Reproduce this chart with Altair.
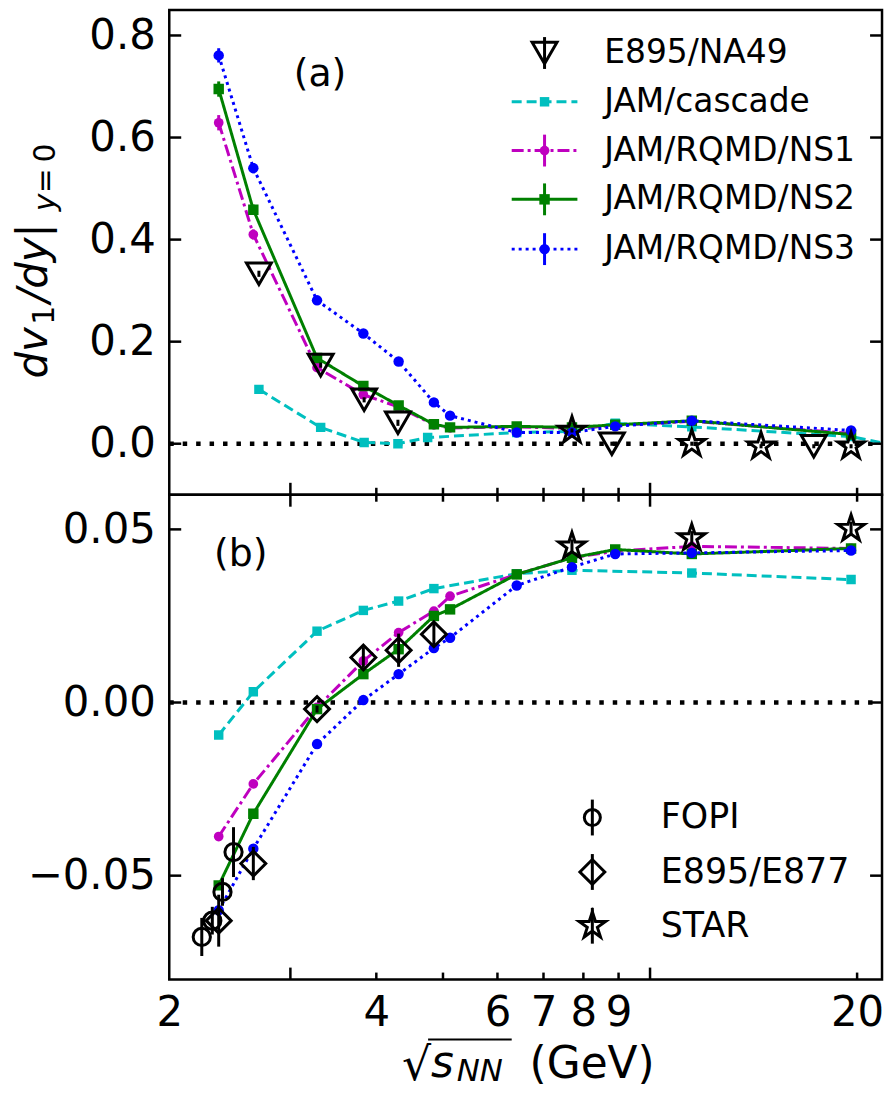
import altair as alt
import pandas as pd

# ---------------- data ----------------
# panel (a): dv1/dy|y=0
A_MODEL_X = [2.36, 2.65, 3.28, 3.83, 4.31, 4.85, 5.12, 6.4, 7.7, 8.9, 11.5, 19.6]
A_NS1 = [0.629, 0.410, 0.149, 0.096, 0.072, 0.037, 0.031, 0.033, 0.030, 0.036, 0.044, 0.020]
A_NS1_ERR = [0.015, 0.010, 0.006, 0.004, 0.004, 0.003, 0.003, 0.002, 0.002, 0.002, 0.002, 0.002]
A_NS2 = [0.695, 0.4585, 0.168, 0.113, 0.075, 0.038, 0.032, 0.034, 0.032, 0.037, 0.045, 0.018]
A_NS2_ERR = [0.015, 0.010, 0.006, 0.004, 0.004, 0.003, 0.003, 0.002, 0.002, 0.002, 0.002, 0.002]
A_NS3 = [0.761, 0.540, 0.281, 0.216, 0.161, 0.081, 0.055, 0.022, 0.022, 0.034, 0.045, 0.026]
A_NS3_ERR = [0.014, 0.010, 0.006, 0.004, 0.004, 0.003, 0.003, 0.002, 0.002, 0.002, 0.002, 0.002]
A_CASCADE_X = [2.7, 3.32, 3.84, 4.3, 4.75, 6.4, 7.7, 8.9, 11.5, 19.6, 27.0]
A_CASCADE = [0.1065, 0.032, 0.0025, 0.0, 0.012, 0.022, 0.024, 0.040, 0.033, 0.014, -0.024]
A_E895_X = [2.7, 3.32, 3.84, 4.3, 8.8, 17.3]
A_E895 = [0.333, 0.154, 0.086, 0.041, 0.0, -0.005]
A_E895_ERR = [0.006, 0.005, 0.005, 0.006, 0.004, 0.004]
A_STAR_X = [7.7, 11.5, 14.5, 19.6]
A_STAR = [0.026, 0.0, -0.005, -0.005]
A_STAR_ERR = [0.004, 0.004, 0.004, 0.004]

# panel (b)
B_MODEL_X = [2.36, 2.65, 3.28, 3.83, 4.31, 4.85, 5.12, 6.4, 7.7, 8.9, 11.5, 19.6]
B_CASCADE_X = [2.36, 2.65, 3.28, 3.83, 4.31, 4.85, 6.4, 7.7, 11.5, 19.6]
B_CASCADE = [-0.0094, 0.0031, 0.0206, 0.0266, 0.0293, 0.0329, 0.0372, 0.0382, 0.0374, 0.0355]
B_NS1 = [-0.0387, -0.0235, -0.0014, 0.012, 0.0202, 0.0264, 0.0307, 0.037, 0.0418, 0.0437, 0.0451, 0.0445]
B_NS2 = [-0.0528, -0.0321, -0.0019, 0.0082, 0.0154, 0.025, 0.0269, 0.037, 0.0418, 0.0442, 0.0429, 0.0445]
B_NS3 = [-0.060, -0.0422, -0.012, 0.0007, 0.0082, 0.0157, 0.0187, 0.0338, 0.0391, 0.0429, 0.0432, 0.0439]
B_FOPI_X = [2.23, 2.31, 2.39, 2.48]
B_FOPI = [-0.0677, -0.0630, -0.0547, -0.0432]
B_FOPI_ERR = [0.0055, 0.004, 0.004, 0.0072]
B_E895_X = [2.36, 2.65, 3.28, 3.83, 4.31, 4.85]
B_E895 = [-0.063, -0.0465, -0.0019, 0.013, 0.0151, 0.0197]
B_E895_ERR = [0.0075, 0.0048, 0.001, 0.003, 0.0048, 0.003]
B_STAR_X = [7.7, 11.5, 19.6]
B_STAR = [0.0451, 0.0475, 0.0502]
B_STAR_ERR = [0.002, 0.002, 0.002]

# axes
X_LABELS = [2, 4, 6, 7, 8, 9, 20]
X_MAJOR = [3, 10]
X_MINOR = [4, 5, 6, 7, 8, 9, 20]
YA_TICKS = [0.0, 0.2, 0.4, 0.6, 0.8]
YB_TICKS = [-0.05, 0.0, 0.05]
X_DOMAIN = [2.0, 21.74]
YA_DOMAIN = [-0.1, 0.85]
YB_DOMAIN = [-0.08, 0.06]

LEG_A = ["E895/NA49", "JAM/cascade", "JAM/RQMD/NS1", "JAM/RQMD/NS2", "JAM/RQMD/NS3"]
LEG_B = ["FOPI", "E895/E877", "STAR"]

# ---------------- styling ----------------
W, HA, HB = 716, 487, 487
FONT = "DejaVu Sans"
C_CAS, C_NS1, C_NS2, C_NS3 = "#00bfbf", "#bf00bf", "#008000", "#0000ff"
D_CAS, D_NS1, D_NS2, D_NS3 = [10, 5], [12, 4, 3, 4], [1, 0], [3, 4]
LW = 3
STAR_PATH = ("M0,-1L0.2245,-0.309L0.951,-0.309L0.363,0.118L0.588,0.809L0,0.382"
             "L-0.588,0.809L-0.363,0.118L-0.951,-0.309L-0.2245,-0.309Z")

XS = alt.Scale(type="log", domain=X_DOMAIN, nice=False)
YSA = alt.Scale(domain=YA_DOMAIN, nice=False, zero=False)
YSB = alt.Scale(domain=YB_DOMAIN, nice=False, zero=False)

AX_X = alt.Axis(values=X_LABELS, format="d", title=None, ticks=False, tickSize=0, domain=False,
                grid=False, labelFontSize=42, labelPadding=13, labelFlush=False,
                labelOverlap=False, labelColor="black", labelFont=FONT)
AX_YA = alt.Axis(values=YA_TICKS, format=".1f", title=None, ticks=False, tickSize=0, domain=False,
                 grid=False, labelFontSize=42, labelPadding=14, labelColor="black", labelFont=FONT)
AX_YB = alt.Axis(values=YB_TICKS, format=".2f", title=None, ticks=False, tickSize=0, domain=False,
                 grid=False, labelFontSize=42, labelPadding=14, labelColor="black", labelFont=FONT)

ONE = pd.DataFrame({"k": [0]})


def frame(xs, ys, errs=None):
    d = pd.DataFrame({"x": xs, "y": ys})
    if errs is not None:
        d["lo"] = [a - e for a, e in zip(ys, errs)]
        d["hi"] = [a + e for a, e in zip(ys, errs)]
    return d


def enc_x(panel, field="x"):
    return alt.X(f"{field}:Q", scale=XS, axis=(AX_X if panel == "b" else None))


def enc_y(panel, field="y"):
    if panel == "a":
        return alt.Y(f"{field}:Q", scale=YSA, axis=AX_YA)
    return alt.Y(f"{field}:Q", scale=YSB, axis=AX_YB)


def model(panel, xs, ys, color, dash, shape, size, errs=None):
    d = frame(xs, ys, errs)
    layers = [
        alt.Chart(d).mark_line(color=color, strokeWidth=LW, strokeDash=dash, clip=True)
        .encode(x=enc_x(panel), y=enc_y(panel)),
        alt.Chart(d).mark_point(shape=shape, filled=True, size=size, color=color, opacity=1, clip=True)
        .encode(x=enc_x(panel), y=enc_y(panel)),
    ]
    if errs is not None:
        layers.insert(1, alt.Chart(d).mark_rule(color=color, strokeWidth=LW)
                      .encode(x=enc_x(panel), y=enc_y(panel, "lo"), y2="hi"))
    return layers


def data_pts(panel, xs, ys, errs, shape, size):
    d = frame(xs, ys, errs)
    return [
        alt.Chart(d).mark_rule(color="black", strokeWidth=3)
        .encode(x=enc_x(panel), y=enc_y(panel, "lo"), y2="hi"),
        alt.Chart(d).mark_point(shape=shape, filled=False, size=size, color="black",
                                strokeWidth=3, opacity=1)
        .encode(x=enc_x(panel), y=enc_y(panel)),
    ]


def txt(s, x, y, size, italic=False, angle=0, align="left", baseline="alphabetic"):
    return alt.Chart(ONE).mark_text(
        text=s, fontSize=size, font=FONT, fontStyle=("italic" if italic else "normal"),
        angle=angle, align=align, baseline=baseline, color="black"
    ).encode(x=alt.value(x), y=alt.value(y))


def hseg(x1, x2, y, color, dash, width=LW):
    return alt.Chart(ONE).mark_rule(color=color, strokeWidth=width, strokeDash=dash).encode(
        x=alt.value(x1), x2=alt.value(x2), y=alt.value(y))


def vseg(x, y1, y2, color, width=LW):
    return alt.Chart(ONE).mark_rule(color=color, strokeWidth=width).encode(
        x=alt.value(x), y=alt.value(y1), y2=alt.value(y2))


def sym(x, y, shape, size, color, filled, width=3):
    return alt.Chart(ONE).mark_point(shape=shape, size=size, color=color, filled=filled,
                                     opacity=1, strokeWidth=width).encode(
        x=alt.value(x), y=alt.value(y))


def ticks(panel, h, top=False):
    yt = YA_TICKS if panel == "a" else YB_TICKS
    out = []
    for vals, ln in ((X_MAJOR, 12), (X_MINOR, 7)):
        d = pd.DataFrame({"t": vals})
        y0, y1 = (0, ln) if top else (h, h - ln)
        out.append(alt.Chart(d).mark_rule(color="black", strokeWidth=2.5)
                   .encode(x=enc_x(panel, "t"), y=alt.value(y0), y2=alt.value(y1)))
    d = pd.DataFrame({"t": yt})
    out.append(alt.Chart(d).mark_rule(color="black", strokeWidth=2.5)
               .encode(y=enc_y(panel, "t"), x=alt.value(0), x2=alt.value(12)))
    out.append(alt.Chart(d).mark_rule(color="black", strokeWidth=2.5)
               .encode(y=enc_y(panel, "t"), x=alt.value(W - 12), x2=alt.value(W)))
    return out


def zero_line(panel):
    return alt.Chart(pd.DataFrame({"z": [0.0]})).mark_rule(
        color="black", strokeWidth=4.5, strokeDash=[4.5, 9]).encode(
        y=enc_y(panel, "z"), x=alt.value(0), x2=alt.value(W))


# ---------------- panel (a) ----------------
la = [zero_line("a")]
la += model("a", A_CASCADE_X, A_CASCADE, C_CAS, D_CAS, "square", 90)
la += model("a", A_MODEL_X, A_NS1, C_NS1, D_NS1, "circle", 95, A_NS1_ERR)
la += model("a", A_MODEL_X, A_NS2, C_NS2, D_NS2, "square", 110, A_NS2_ERR)
la += model("a", A_MODEL_X, A_NS3, C_NS3, D_NS3, "circle", 110, A_NS3_ERR)
la += data_pts("a", A_E895_X, A_E895, A_E895_ERR, "triangle-down", 625)
la += data_pts("a", A_STAR_X, A_STAR, A_STAR_ERR, STAR_PATH, 784)
la += ticks("a", HA)
la.append(txt("(a)", 125, 76.25, 38))

# legend (a)
rows_a = [43.25, 92.25, 141.25, 190.25, 240.25]
lx1, lmx, lx2, ltx = 344, 377, 410, 437
la.append(vseg(lmx, rows_a[0] - 16, rows_a[0] + 16, "black", 3))
la.append(sym(lmx, rows_a[0], "triangle-down", 625, "black", False))
for r, c, dsh, shp, sz, err in [
    (rows_a[1], C_CAS, D_CAS, "square", 90, False),
    (rows_a[2], C_NS1, D_NS1, "circle", 95, True),
    (rows_a[3], C_NS2, D_NS2, "square", 110, True),
    (rows_a[4], C_NS3, D_NS3, "circle", 110, True),
]:
    la.append(hseg(lx1, lx2, r, c, dsh))
    if err:
        la.append(vseg(lmx, r - 16, r + 16, c))
    la.append(sym(lmx, r, shp, sz, c, True, 1))
for r, name in zip(rows_a, LEG_A):
    la.append(txt(name, ltx, r, 33, baseline="middle"))

# y title (a): d v_1 / d y |_{y=0}
la.append(txt("dv", -123, 370.25, 42, italic=True, angle=270))
la.append(txt("1", -116, 316.25, 30, angle=270))
la.append(txt("/dy|", -123, 294.25, 42, italic=True, angle=270))
la.append(txt("y", -115, 202.25, 30, italic=True, angle=270))
la.append(txt("\u2009=\u20090", -115, 184.25, 30, angle=270))

top = alt.layer(*la).properties(width=W, height=HA)

# ---------------- panel (b) ----------------
lb = [zero_line("b")]
lb += model("b", B_CASCADE_X, B_CASCADE, C_CAS, D_CAS, "square", 90)
lb += model("b", B_MODEL_X, B_NS1, C_NS1, D_NS1, "circle", 95)
lb += model("b", B_MODEL_X, B_NS2, C_NS2, D_NS2, "square", 110)
lb += model("b", B_MODEL_X, B_NS3, C_NS3, D_NS3, "circle", 110)
lb += data_pts("b", B_FOPI_X, B_FOPI, B_FOPI_ERR, "circle", 300)
lb += data_pts("b", B_E895_X, B_E895, B_E895_ERR, "diamond", 625)
lb += data_pts("b", B_STAR_X, B_STAR, B_STAR_ERR, STAR_PATH, 784)
lb += ticks("b", HB)
lb += ticks("b", HB, top=True)[:2]
lb.append(txt("(b)", 45, 71.25, 38))

rows_b = [324.25, 378.95, 432.95]
mbx, tbx = 425, 493.7
for r, shp, sz in zip(rows_b, ["circle", "diamond", STAR_PATH], [260, 625, 784]):
    lb.append(vseg(mbx, r - 18, r + 18, "black", 3))
    lb.append(sym(mbx, r, shp, sz, "black", False))
for r, name in zip(rows_b, LEG_B):
    lb.append(txt(name, tbx, r, 35, baseline="middle"))

# x title: sqrt(s_NN) (GeV)
lb.append(txt("\u221a", 233.7, 588.25, 46))
lb.append(hseg(260, 344, 547.25, "black", [1, 0], 2))
lb.append(txt("s", 263, 585.25, 44, italic=True))
lb.append(txt("NN", 288.7, 589.25, 31, italic=True))
lb.append(txt("(GeV)", 362, 586.25, 44))

bottom = alt.layer(*lb).properties(width=W, height=HB)

chart = (
    alt.vconcat(top, bottom, spacing=0, bounds="flush")
    .properties(padding={"left": 3, "top": -2.5, "right": 0, "bottom": -2})
    .configure(font=FONT)
    .configure_view(stroke="black", strokeWidth=2.5)
)

chart.save("out.html", embed_options={"renderer": "svg", "actions": False})
